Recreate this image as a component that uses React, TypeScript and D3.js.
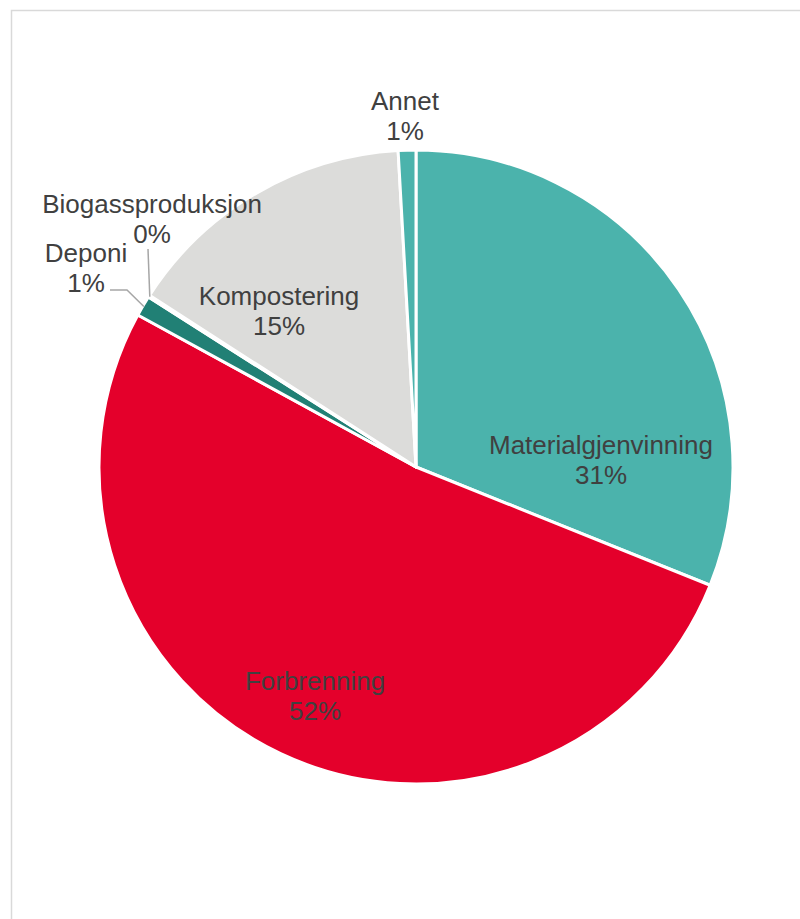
import React from "react";
import * as d3 from "d3";

// waste treatment shares, clockwise from 12 o'clock
const categories = ["Materialgjenvinning", "Forbrenning", "Deponi", "Biogassproduksjon", "Kompostering", "Annet"];
const values = [31.1, 51.9, 1.05, 0.1, 15.0, 0.9];
const colors = ["#4BB3AC", "#E4002B", "#218075", "#7FC4BE", "#DCDCDA", "#4BB3AC"];

// label anchors (dx, dy from pie centre) – placed like the original best-fit labels
const labelOffsets: [number, number][] = [
  [185, -12],
  [-101, 224],
  [-330, -204],
  [-264, -253],
  [-137, -161],
  [-11, -356],
];
// leader line elbows for the outside labels (null = no leader)
const leaderElbows: ([number, number][] | null)[] = [
  null,
  null,
  [[-306, -177], [-289, -177]],
  [[-268, -218]],
  null,
  null,
];

const W = 800;
const H = 919;
const cx = 416;
const cy = 467;
const R = 317;

const App = () => {
  const total = d3.sum(values);
  const pie = d3.pie<number>().sort(null).value(d => d);
  const arcs = pie(values);
  const arc = d3.arc<d3.PieArcDatum<number>>().innerRadius(0).outerRadius(R);
  const fmt = (v: number) => Math.round((v / total) * 100) + "%";

  return (
    <svg width={W} height={H} style={{ position: "absolute", left: 0, top: 0, background: "#fff" }}>
      <rect x={11.5} y={10.5} width={W} height={H} fill="#fff" stroke="#D9D9D9" strokeWidth={1.5} />
      <g transform={`translate(${cx},${cy})`}>
        {arcs.map((a, i) => (
          <path key={categories[i]} d={arc(a) || ""} fill={colors[i]} stroke="#fff" strokeWidth={3} strokeLinejoin="round" />
        ))}
        {arcs.map((a, i) => {
          const el = leaderElbows[i];
          if (!el) return null;
          const mid = (a.startAngle + a.endAngle) / 2;
          const end: [number, number] = [Math.sin(mid) * (R - 1), -Math.cos(mid) * (R - 1)];
          const pts = [...el, end];
          return (
            <path key={"l" + i} d={d3.line()(pts) || ""} fill="none" stroke="#A6A6A6" strokeWidth={1.5} />
          );
        })}
        {categories.map((c, i) => {
          const [dx, dy] = labelOffsets[i];
          return (
            <text
              key={"t" + c}
              x={dx}
              y={dy}
              textAnchor="middle"
              fontFamily="'Liberation Sans', Arial, sans-serif"
              fontSize={26}
              fill="#404040"
            >
              <tspan x={dx} dy={-1}>{c}</tspan>
              <tspan x={dx} dy={30}>{fmt(values[i])}</tspan>
            </text>
          );
        })}
      </g>
    </svg>
  );
};

export default App;
